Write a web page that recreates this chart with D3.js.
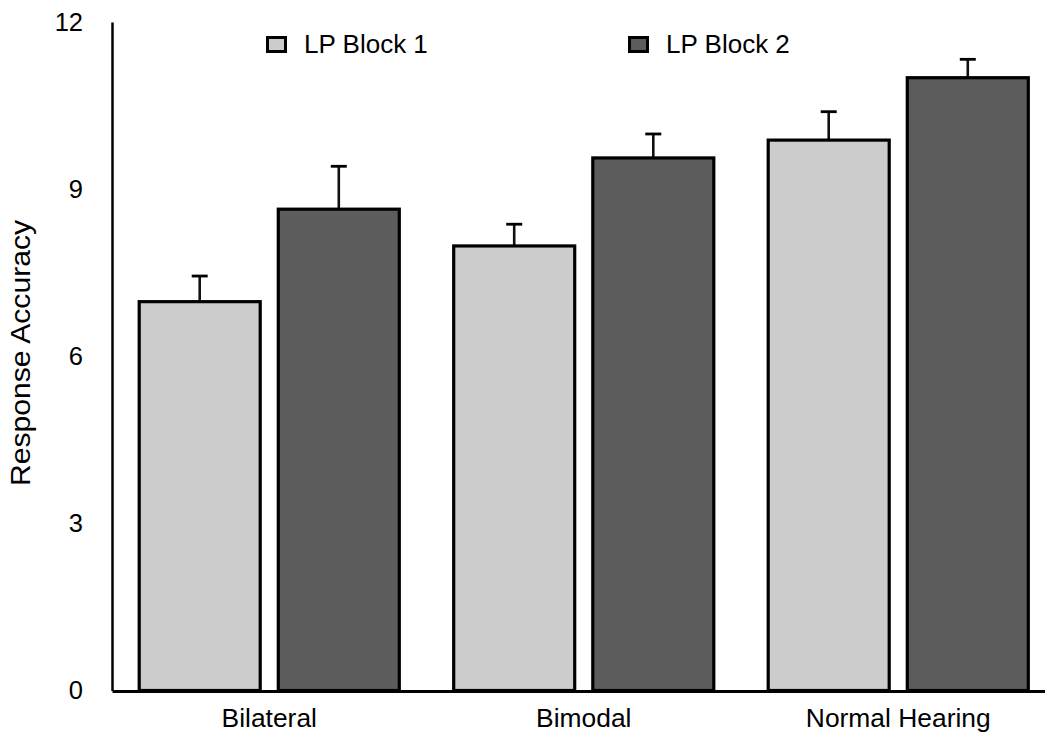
<!DOCTYPE html>
<html>
<head>
<meta charset="utf-8">
<script src="https://cdn.jsdelivr.net/npm/d3@7"></script>
<style>
  html, body { margin: 0; padding: 0; background: #fff; }
  svg { display: block; font-family: "Liberation Sans", Arial, Helvetica, sans-serif; }
</style>
</head>
<body>
<svg id="chart" width="1045" height="734"></svg>
<script>
// Groups and series
const groups = ["Bilateral", "Bimodal", "Normal Hearing"];
const seriesNames = ["LP Block 1", "LP Block 2"];
const block1Means = [6.98, 7.98, 9.88];
const block2Means = [8.64, 9.56, 11.0];
const block1SE = [0.46, 0.39, 0.51];
const block2SE = [0.77, 0.43, 0.33];
const yTicks = [0, 3, 6, 9, 12];
const seriesColors = ["#cccccc", "#5c5c5c"];

const means = [block1Means, block2Means];
const errs = [block1SE, block2SE];
const rows = [];
groups.forEach((g, gi) => {
  seriesNames.forEach((s, si) => {
    rows.push({ group: g, series: s, si, value: means[si][gi], se: errs[si][gi] });
  });
});

const svg = d3.select("#chart");

const x0 = d3.scaleBand()
  .domain(groups)
  .range([112, 1055.5])
  .paddingInner(0.173)
  .paddingOuter(0.0865);

const x1 = d3.scaleBand()
  .domain(seriesNames)
  .range([0, x0.bandwidth()])
  .paddingInner(0.13)
  .paddingOuter(0);

const y = d3.scaleLinear().domain([0, 12]).range([690.5, 22]);

// Error bars (stem + cap)
const eb = svg.append("g");
eb.selectAll("line.stem")
  .data(rows)
  .join("line")
  .attr("x1", d => x0(d.group) + x1(d.series) + x1.bandwidth() / 2)
  .attr("x2", d => x0(d.group) + x1(d.series) + x1.bandwidth() / 2)
  .attr("y1", d => y(d.value))
  .attr("y2", d => y(d.value + d.se))
  .attr("stroke", "#111")
  .attr("stroke-width", 2.6);
eb.selectAll("line.cap")
  .data(rows)
  .join("line")
  .attr("x1", d => x0(d.group) + x1(d.series) + x1.bandwidth() / 2 - 8)
  .attr("x2", d => x0(d.group) + x1(d.series) + x1.bandwidth() / 2 + 8)
  .attr("y1", d => y(d.value + d.se))
  .attr("y2", d => y(d.value + d.se))
  .attr("stroke", "#000")
  .attr("stroke-width", 2.8);

// Bars
svg.append("g")
  .selectAll("rect")
  .data(rows)
  .join("rect")
  .attr("x", d => x0(d.group) + x1(d.series))
  .attr("width", x1.bandwidth())
  .attr("y", d => y(d.value))
  .attr("height", d => y(0) - y(d.value))
  .attr("fill", d => seriesColors[d.si])
  .attr("stroke", "#000")
  .attr("stroke-width", 3.2);

// Y axis: line and labels, no tick marks
const yAxis = svg.append("g")
  .attr("transform", "translate(112,0)")
  .call(d3.axisLeft(y).tickValues(yTicks).tickSize(0).tickPadding(29).tickFormat(d3.format("d")));
yAxis.select(".domain").attr("stroke", "#000").attr("stroke-width", 2.5);
yAxis.selectAll("text")
  .attr("font-size", 25.5)
  .attr("fill", "#000")
  .attr("font-family", "Liberation Sans, Arial, sans-serif");

// X axis: baseline and category labels
const xAxis = svg.append("g")
  .attr("transform", "translate(0,691)")
  .call(d3.axisBottom(x0).tickSize(0).tickPadding(17));
xAxis.select(".domain").attr("stroke", "#000").attr("stroke-width", 3);
xAxis.selectAll("text")
  .attr("font-size", 26.4)
  .attr("fill", "#000")
  .attr("font-family", "Liberation Sans, Arial, sans-serif");

// Y axis title
svg.append("text")
  .attr("transform", "translate(30,353) rotate(-90)")
  .attr("text-anchor", "middle")
  .attr("font-size", 27)
  .attr("textLength", 266)
  .attr("lengthAdjust", "spacingAndGlyphs")
  .attr("fill", "#000")
  .text("Response Accuracy");

// Legend
const legendX = d3.scaleOrdinal().domain(seriesNames).range([267.5, 629.5]);
const lg = svg.append("g")
  .selectAll("g")
  .data(seriesNames)
  .join("g")
  .attr("transform", d => `translate(${legendX(d)},37.5)`);
lg.append("rect")
  .attr("width", 18)
  .attr("height", 14)
  .attr("fill", (d, i) => seriesColors[i])
  .attr("stroke", "#000")
  .attr("stroke-width", 3);
lg.append("text")
  .attr("x", 36.5)
  .attr("y", 15.5)
  .attr("font-size", 26)
  .attr("fill", "#000")
  .text(d => d);
</script>
</body>
</html>
